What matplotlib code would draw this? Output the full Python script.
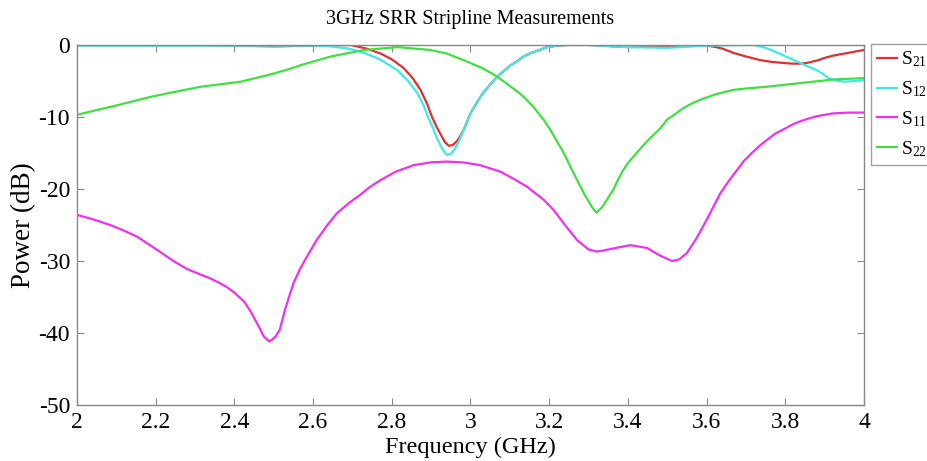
import matplotlib
matplotlib.use('Agg')
import matplotlib.pyplot as plt

plt.rcParams['font.family'] = ['Liberation Serif', 'DejaVu Serif']
plt.rcParams['mathtext.fontset'] = 'custom'
plt.rcParams['mathtext.rm'] = 'Liberation Serif'
plt.rcParams['mathtext.it'] = 'Liberation Serif:italic'
plt.rcParams['axes.unicode_minus'] = False

# Values (frequency in GHz, power in dB)
f_s21 = [2.0, 2.3, 2.5, 2.6, 2.695, 2.735, 2.772, 2.80, 2.83, 2.853, 2.873, 2.89,
         2.903, 2.915, 2.925, 2.935, 2.945, 2.955, 2.965, 2.975, 2.985, 3.0, 3.015,
         3.03, 3.05, 3.068, 3.085, 3.1, 3.12, 3.135, 3.15, 3.17, 3.195, 3.22, 3.25,
         3.3, 3.4, 3.5, 3.6, 3.62, 3.64, 3.668, 3.7, 3.736, 3.765, 3.795, 3.82,
         3.838, 3.855, 3.87, 3.885, 3.897, 3.92, 3.95, 3.975, 4.0]
s21 = [0.0, 0.0, -0.2, -0.1, 0.0, -0.5, -1.2, -2.0, -3.2, -4.6, -6.25, -8.2,
       -10.1, -11.5, -12.5, -13.5, -14.0, -13.9, -13.4, -12.6, -11.5, -9.5, -8.1,
       -6.8, -5.5, -4.4, -3.6, -2.9, -2.2, -1.6, -1.2, -0.8, -0.3, -0.1, 0.0,
       0.0, -0.3, -0.2, -0.1, -0.25, -0.5, -1.1, -1.6, -2.1, -2.35, -2.5, -2.6,
       -2.6, -2.5, -2.3, -2.1, -1.85, -1.5, -1.2, -0.95, -0.7]

f_s12 = [2.0, 2.3, 2.6, 2.645, 2.69, 2.73, 2.77, 2.814, 2.84, 2.865, 2.88, 2.893,
         2.905, 2.915, 2.928, 2.94, 2.95, 2.96, 2.972, 2.985, 3.0, 3.015, 3.03,
         3.05, 3.068, 3.085, 3.1, 3.12, 3.135, 3.15, 3.17, 3.195, 3.22, 3.25, 3.3,
         3.4, 3.5, 3.6, 3.72, 3.74, 3.76, 3.785, 3.81, 3.83, 3.85, 3.865, 3.88,
         3.895, 3.91, 3.93, 3.95, 3.98, 4.0]
s12 = [-0.1, -0.1, -0.1, -0.2, -0.5, -1.1, -2.0, -3.5, -4.9, -6.7, -8.3, -10.1,
       -11.6, -13.0, -14.4, -15.3, -15.1, -14.5, -13.2, -11.5, -9.5, -8.1, -6.8,
       -5.5, -4.4, -3.6, -2.9, -2.2, -1.6, -1.2, -0.8, -0.3, -0.1, 0.0, 0.0,
       -0.3, -0.4, -0.1, 0.0, -0.25, -0.6, -1.2, -1.8, -2.3, -2.8, -3.15, -3.5,
       -4.0, -4.6, -4.95, -5.1, -5.0, -4.9]

f_s11 = [2.0, 2.04, 2.084, 2.12, 2.152, 2.18, 2.21, 2.245, 2.279, 2.31, 2.338, 2.36,
         2.38, 2.40, 2.424, 2.44, 2.457, 2.475, 2.489, 2.503, 2.515, 2.53, 2.55,
         2.565, 2.58, 2.595, 2.609, 2.635, 2.66, 2.69, 2.72, 2.745, 2.772, 2.81,
         2.855, 2.9, 2.94, 2.98, 3.025, 3.076, 3.11, 3.144, 3.186, 3.211, 3.24,
         3.271, 3.3, 3.322, 3.36, 3.406, 3.449, 3.48, 3.512, 3.53, 3.55, 3.575,
         3.6, 3.635, 3.655, 3.677, 3.695, 3.715, 3.735, 3.753, 3.775, 3.8, 3.82,
         3.838, 3.86, 3.88, 3.9, 3.922, 3.96, 4.0]
s11 = [-23.6, -24.2, -25.0, -25.8, -26.6, -27.6, -28.7, -30.0, -31.1, -31.8, -32.4, -33.0,
       -33.6, -34.4, -35.6, -36.9, -38.6, -40.5, -41.2, -40.6, -39.6, -36.5, -33.1,
       -31.3, -29.8, -28.4, -27.1, -25.1, -23.4, -22.0, -20.8, -19.7, -18.75, -17.6,
       -16.7, -16.3, -16.2, -16.3, -16.7, -17.6, -18.6, -19.7, -21.5, -22.9, -25.0,
       -27.1, -28.4, -28.7, -28.3, -27.8, -28.2, -29.2, -30.0, -29.8, -28.9, -26.8,
       -24.3, -20.6, -19.0, -17.4, -16.1, -15.0, -14.0, -13.2, -12.3, -11.6, -11.0,
       -10.6, -10.2, -9.9, -9.7, -9.5, -9.4, -9.4]

f_s22 = [2.0, 2.1, 2.188, 2.25, 2.315, 2.416, 2.484, 2.53, 2.569, 2.645, 2.73,
         2.814, 2.898, 2.94, 2.982, 3.03, 3.068, 3.1, 3.12, 3.135, 3.16, 3.186,
         3.203, 3.235, 3.262, 3.29, 3.31, 3.32, 3.335, 3.363, 3.375, 3.388, 3.40,
         3.414, 3.43, 3.45, 3.465, 3.482, 3.499, 3.52, 3.54, 3.56, 3.584, 3.60,
         3.62, 3.645, 3.668, 3.7, 3.753, 3.838, 3.922, 4.0]
s22 = [-9.7, -8.4, -7.2, -6.5, -5.8, -5.1, -4.2, -3.5, -2.8, -1.6, -0.7,
       -0.3, -0.7, -1.2, -2.1, -3.2, -4.4, -5.7, -6.5, -7.2, -8.6, -10.4,
       -11.8, -14.8, -17.8, -20.8, -22.6, -23.3, -22.5, -20.1, -18.7, -17.4, -16.4,
       -15.5, -14.5, -13.3, -12.5, -11.6, -10.4, -9.6, -8.8, -8.2, -7.6, -7.3,
       -6.9, -6.55, -6.25, -6.05, -5.8, -5.3, -4.8, -4.6]

x_ticks = [2, 2.2, 2.4, 2.6, 2.8, 3, 3.2, 3.4, 3.6, 3.8, 4]
x_ticklabels = ['2', '2.2', '2.4', '2.6', '2.8', '3', '3.2', '3.4', '3.6', '3.8', '4']
y_ticks = [0, -10, -20, -30, -40, -50]

series = [
    (f_s21, s21, '#e03030', 'S$_{21}$'),
    (f_s12, s12, '#40e8e8', 'S$_{12}$'),
    (f_s11, s11, '#f030f0', 'S$_{11}$'),
    (f_s22, s22, '#40e040', 'S$_{22}$'),
]

fig = plt.figure(figsize=(9.28, 4.61), dpi=100)
ax = fig.add_axes([0.083, 0.1215, 0.848, 0.781])

for f, v, color, label in series:
    ax.plot(f, v, color=color, lw=1.6, label=label)

ax.set_xlim(2, 4)
ax.set_ylim(-50, 0)
ax.set_xticks(x_ticks)
ax.set_xticklabels(x_ticklabels)
ax.set_yticks(y_ticks)

for sp in ax.spines.values():
    sp.set_color('#888888')
    sp.set_linewidth(1.0)
ax.tick_params(direction='in', length=5, color='#888888', labelsize=17,
               top=True, right=True, pad=5)

ax.set_title('3GHz SRR Stripline Measurements', fontsize=14.5, pad=15)
ax.set_xlabel('Frequency (GHz)', fontsize=17.5, labelpad=3)
ax.set_ylabel('Power (dB)', fontsize=19.5, labelpad=2)

leg = ax.legend(loc='upper left', bbox_to_anchor=(0.939, 0.905),
                bbox_transform=fig.transFigure, borderaxespad=0,
                fontsize=14, handlelength=1.0, handletextpad=0.2,
                labelspacing=0.52, borderpad=0.3, fancybox=False)
leg.get_frame().set_edgecolor('#888888')
leg.get_frame().set_linewidth(1.0)

fig.savefig('out.png', dpi=100)
